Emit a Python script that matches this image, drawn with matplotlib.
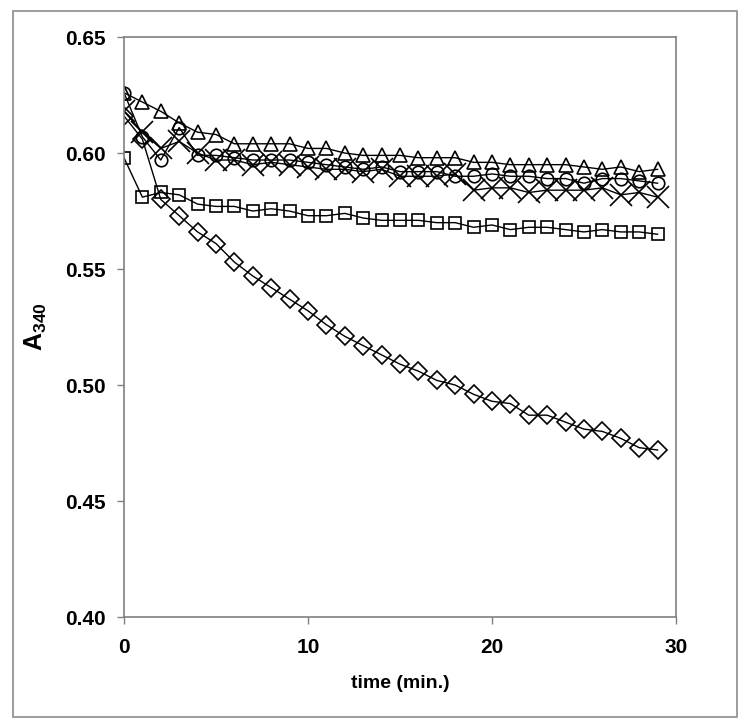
import matplotlib
matplotlib.use("Agg")
import matplotlib.pyplot as plt
from matplotlib.patches import Rectangle

plt.rcParams['font.family'] = ['Liberation Sans', 'DejaVu Sans']
plt.rcParams['mathtext.fontset'] = 'custom'
plt.rcParams['mathtext.rm'] = 'Liberation Sans:bold'
plt.rcParams['mathtext.bf'] = 'Liberation Sans:bold'

# time points (min.)
time = list(range(30))

# absorbance at 340 nm, one list per series
triangles = [0.626, 0.622, 0.618, 0.613, 0.609, 0.608, 0.604, 0.604, 0.604, 0.604,
             0.602, 0.602, 0.600, 0.599, 0.599, 0.599, 0.598, 0.598, 0.598, 0.596,
             0.596, 0.595, 0.595, 0.595, 0.595, 0.594, 0.593, 0.594, 0.592, 0.593]
circles = [0.626, 0.607, 0.597, 0.611, 0.599, 0.599, 0.598, 0.597, 0.597, 0.597,
           0.596, 0.595, 0.594, 0.593, 0.594, 0.592, 0.592, 0.592, 0.590, 0.590,
           0.591, 0.590, 0.590, 0.589, 0.589, 0.587, 0.589, 0.589, 0.588, 0.587]
crosses = [0.618, 0.609, 0.602, 0.605, 0.600, 0.597, 0.597, 0.595, 0.596, 0.595,
           0.594, 0.593, 0.593, 0.592, 0.593, 0.590, 0.590, 0.590, 0.591, 0.584,
           0.585, 0.585, 0.583, 0.584, 0.584, 0.584, 0.585, 0.582, 0.583, 0.581]
squares = [0.598, 0.581, 0.583, 0.582, 0.578, 0.577, 0.577, 0.575, 0.576, 0.575,
           0.573, 0.573, 0.574, 0.572, 0.571, 0.571, 0.571, 0.570, 0.570, 0.568,
           0.569, 0.567, 0.568, 0.568, 0.567, 0.566, 0.567, 0.566, 0.566, 0.565]
diamonds = [0.616, 0.606, 0.580, 0.573, 0.566, 0.561, 0.553, 0.547, 0.542, 0.537,
            0.532, 0.526, 0.521, 0.517, 0.513, 0.509, 0.506, 0.502, 0.500, 0.496,
            0.493, 0.492, 0.487, 0.487, 0.484, 0.481, 0.480, 0.477, 0.473, 0.472]

fig = plt.figure(figsize=(7.5, 7.27), dpi=100)
ax = fig.add_axes([0.1653, 0.1513, 0.736, 0.7977])

# outer frame round the whole chart
fig.patches.append(Rectangle((13 / 750, 1 - 717 / 727), 724 / 750, 706 / 727,
                             transform=fig.transFigure, fill=False,
                             edgecolor='#8c8c8c', linewidth=1.2))

common = dict(color='black', linewidth=1.0, markerfacecolor='none',
              markeredgecolor='black', markeredgewidth=1.2)
ax.plot(time, squares, marker='s', markersize=9, **common)
ax.plot(time, diamonds, marker='D', markersize=9, **common)
ax.plot(time, crosses, marker='x', markersize=16, **common)
ax.plot(time, circles, marker='o', markersize=9, **common)
ax.plot(time, triangles, marker='^', markersize=10, **common)

ax.set_xlim(0, 30)
ax.set_ylim(0.40, 0.65)
ax.set_xticks([0, 10, 20, 30])
ax.set_yticks([0.40, 0.45, 0.50, 0.55, 0.60, 0.65])
ax.set_yticklabels(['0.40', '0.45', '0.50', '0.55', '0.60', '0.65'],
                   fontsize=15, fontweight='bold')
ax.set_xticklabels(['0', '10', '20', '30'], fontsize=15, fontweight='bold')
ax.tick_params(axis='both', direction='out', length=5, color='#808080', width=1)
ax.tick_params(axis='x', pad=10)
ax.tick_params(axis='y', pad=8)

for side in ['left', 'right', 'top', 'bottom']:
    ax.spines[side].set_color('#808080')
    ax.spines[side].set_linewidth(1.2)

ax.set_xlabel('time (min.)', fontsize=14, fontweight='bold', labelpad=13)
ax.set_ylabel(r'A$\mathregular{_{340}}$', fontsize=18, fontweight='bold',
              labelpad=12)

fig.savefig('out.png', dpi=100)
